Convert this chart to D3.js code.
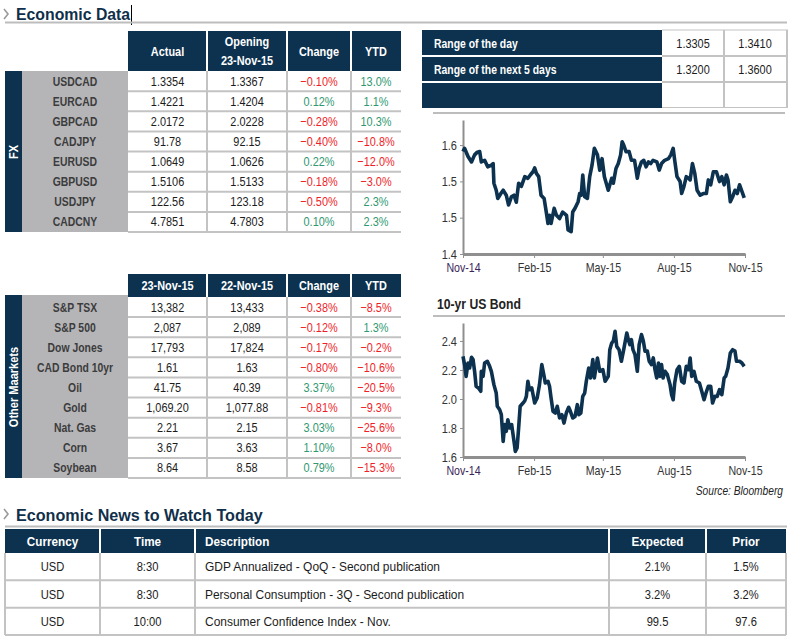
<!DOCTYPE html>
<html><head><meta charset="utf-8">
<script src="https://cdn.jsdelivr.net/npm/d3@7"></script>
<style>body{margin:0;background:#fff}svg{display:block}</style>
</head><body>
<svg id="c" width="795" height="636"></svg>
<script>
// ---------------- DATA ----------------
const fxPairs   = ["USDCAD","EURCAD","GBPCAD","CADJPY","EURUSD","GBPUSD","USDJPY","CADCNY"];
const fxActual  = ["1.3354","1.4221","2.0172","91.78","1.0649","1.5106","122.56","4.7851"];
const fxOpening = ["1.3367","1.4204","2.0228","92.15","1.0626","1.5133","123.18","4.7803"];
const fxChange  = [-0.10, 0.12, -0.28, -0.40, 0.22, -0.18, -0.50, 0.10];
const fxYtd     = [13.0, 1.1, 10.3, -10.8, -12.0, -3.0, 2.3, 2.3];
const fxHeaders = [["Actual"],["Opening","23-Nov-15"],["Change"],["YTD"]];

const mkNames  = ["S&P TSX","S&P 500","Dow Jones","CAD Bond 10yr","Oil","Gold","Nat. Gas","Corn","Soybean"];
const mkToday  = ["13,382","2,087","17,793","1.61","41.75","1,069.20","2.21","3.67","8.64"];
const mkPrev   = ["13,433","2,089","17,824","1.63","40.39","1,077.88","2.15","3.63","8.58"];
const mkChange = [-0.38, -0.12, -0.17, -0.80, 3.37, -0.81, 3.03, 1.10, 0.79];
const mkYtd    = [-8.5, 1.3, -0.2, -10.6, -20.5, -9.3, -25.6, -8.0, -15.3];
const mkHeaders = [["23-Nov-15"],["22-Nov-15"],["Change"],["YTD"]];

const rangeLabels = ["Range of the day","Range of the next 5 days",""];
const rangeLow    = ["1.3305","1.3200",""];
const rangeHigh   = ["1.3410","1.3600",""];

const newsHeaders  = ["Currency","Time","Description","Expected","Prior"];
const newsCurrency = ["USD","USD","USD"];
const newsTime     = ["8:30","8:30","10:00"];
const newsDesc     = ["GDP Annualized - QoQ - Second publication","Personal Consumption - 3Q - Second publication","Consumer Confidence Index - Nov."];
const newsExpected = ["2.1%","3.2%","99.5"];
const newsPrior    = ["1.5%","3.2%","97.6"];

// chart x values: days since 23-Nov-2014
const fxDays = [0,2,6.5,11,15,18.5,21.6,23.7,28,32,36.7,39,40,43,45,49,52,56,59,62.6,66,69,72,75.5,80,84,87.6,90.6,92.8,95,98,101,105,108,110,112,114,118,121,125,129,134,136,140,142,145,149,151,153,155,157.5,161,164,167,170,174,177,180,183,188,192.5,194.6,198,201,204,206,208,211,215,218,222,224,225.6,228,231,234,237,240,243,246,251,254,257,261,266,269,272,274,277,281,283,286,289,292,294,297,300,303,307,311,315,317.5,320.6,324,328,332,335,338,341,343,346,349,352,355,358,361,364];
const fxValues = [1.588,1.594,1.579,1.569,1.582,1.587,1.588,1.569,1.572,1.560,1.563,1.566,1.530,1.517,1.502,1.511,1.517,1.508,1.490,1.505,1.508,1.495,1.530,1.524,1.542,1.539,1.546,1.551,1.558,1.548,1.542,1.508,1.502,1.475,1.456,1.471,1.456,1.484,1.471,1.465,1.477,1.471,1.444,1.441,1.477,1.484,1.496,1.511,1.508,1.545,1.505,1.502,1.542,1.563,1.594,1.582,1.554,1.575,1.542,1.517,1.539,1.530,1.557,1.566,1.582,1.606,1.600,1.588,1.588,1.572,1.572,1.554,1.539,1.557,1.569,1.572,1.560,1.569,1.566,1.572,1.569,1.554,1.566,1.572,1.575,1.582,1.594,1.572,1.542,1.533,1.511,1.524,1.542,1.539,1.536,1.566,1.548,1.517,1.508,1.511,1.511,1.536,1.527,1.551,1.551,1.533,1.542,1.527,1.545,1.536,1.496,1.505,1.517,1.511,1.527,1.515,1.503];
const fxYTicks = [1.4, 1.4667, 1.5333, 1.6];

const bondDays = [0,2,4,6.5,8.6,11,13,15,17,20,23,23.7,26,28,31.5,34.5,36.7,40,43,44.4,47.5,49.6,52,54,56,58,60.4,63,66,67.7,70,72,74,77.7,80,82,84,86,89,92.8,96,99,102,105,106.5,110,112,114,116.5,119.5,122,125,128,130.7,133.7,136.8,139,142,145,148,150,152.5,155,157.5,159.6,162.7,165,168,170,174,177,181,184,188,190,192.5,194.6,196.8,199,202,205,208,212,214,216,218,220,222.6,225.6,228,231,233.4,235.6,238.6,241,244,246.3,248.5,250.7,253,255,257,259,261.5,264.5,268,270,272,274,277,280,283,286,289,292,294,296,299,302,306,309,312,314.5,317.5,320.6,323,326,329,332,335,338,340,343,346,349,352,354,358,361,364];
const bondValues = [2.294,2.237,2.156,2.248,2.214,2.288,2.272,2.191,2.088,2.076,2.053,2.191,2.156,2.248,2.260,2.225,2.191,2.099,2.041,1.950,1.926,1.892,1.708,1.823,1.777,1.857,1.800,1.823,1.708,1.639,1.662,1.800,1.950,1.972,1.988,2.018,2.122,2.064,2.076,1.972,2.007,2.099,2.237,2.156,2.110,2.122,2.088,2.007,1.915,1.903,1.950,1.869,1.892,1.834,1.903,1.943,1.915,1.869,1.880,1.961,1.892,1.903,2.018,2.041,2.122,2.214,2.145,2.272,2.145,2.283,2.191,2.202,2.122,2.156,2.340,2.386,2.400,2.467,2.363,2.340,2.260,2.340,2.455,2.409,2.375,2.409,2.340,2.306,2.191,2.375,2.444,2.400,2.330,2.330,2.260,2.237,2.283,2.202,2.145,2.248,2.156,2.237,2.145,2.191,2.168,2.099,2.030,1.995,2.110,2.202,2.225,2.122,2.110,2.225,2.202,2.283,2.156,2.191,2.122,2.110,2.053,1.995,2.041,2.088,2.088,1.972,2.018,2.018,2.064,2.030,2.145,2.156,2.214,2.317,2.340,2.330,2.260,2.260,2.248,2.225];
const bondYTicks = [1.6, 1.8, 2.0, 2.2, 2.4];

const dateTicks = ["2014-11-23","2015-02-23","2015-05-23","2015-08-23","2015-11-23"];

// ---------------- STYLE ----------------
const NAVY = "#0c324f", LABELBG = "#b5b5b8", SEP = "#c3c3c3";
const RED = "#f01e28", GREEN = "#2f9870", TXT = "#1c1c1c";
const F = "'Liberation Sans',Arial,sans-serif";
const svg = d3.select("#c");
const sign = v => v < 0 ? RED : GREEN;
const fmtChg = d3.format(".2f"), fmtYtd = d3.format(".1f");

// condensed text helper
function T(parent, x, y, s, o = {}) {
  const rot = o.rotate ? ` rotate(${o.rotate})` : "";
  return parent.append("text")
    .attr("transform", `translate(${x},${y})${rot} scale(${o.sx || 0.8},1)`)
    .text(s)
    .attr("font-family", F).attr("font-size", o.size || 13)
    .attr("font-weight", o.weight || "normal").attr("font-style", o.style || "normal")
    .attr("text-anchor", o.anchor || "start").attr("fill", o.fill || TXT);
}

// ---------------- SECTION TITLES ----------------
function chevron(x, y) {
  svg.append("path").attr("d", `M${x},${y-5}L${x+4},${y}L${x},${y+5}`)
    .attr("fill","none").attr("stroke","#9a9a9a").attr("stroke-width",1.6);
}
chevron(4, 14);
T(svg, 16, 20, "Economic Data", {size:17, weight:"bold", sx:0.93, fill:"#102f4a"});
svg.append("line").attr("x1",131.5).attr("x2",131.5).attr("y1",5).attr("y2",25).attr("stroke","#000").attr("stroke-width",1);
svg.append("line").attr("x1",5).attr("x2",787).attr("y1",22.5).attr("y2",22.5).attr("stroke","#bdbdbd").attr("stroke-width",2);

chevron(4, 514);
T(svg, 16, 521, "Economic News to Watch Today", {size:17, weight:"bold", sx:0.95, fill:"#102f4a"});
svg.append("line").attr("x1",5).attr("x2",787).attr("y1",526.5).attr("y2",526.5).attr("stroke","#bdbdbd").attr("stroke-width",2);

// ---------------- LEFT TABLES ----------------
const colEdges = [128, 207, 287, 351, 401];
function leftTable(o) {
  const g = svg.append("g");
  g.append("rect").attr("x",colEdges[0]).attr("y",o.hTop).attr("width",colEdges[4]-colEdges[0]).attr("height",o.hBot-o.hTop).attr("fill",NAVY);
  o.headers.forEach((h,i) => {
    const cx = (colEdges[i]+colEdges[i+1])/2, mid = (o.hTop+o.hBot)/2;
    h.forEach((line,j) => {
      T(g, cx, mid + (j-(h.length-1)/2)*19 + 4.5, line, {anchor:"middle", weight:"bold", fill:"#fff", sx:0.84});
    });
  });
  colEdges.slice(1,4).forEach(x => g.append("line").attr("x1",x).attr("x2",x).attr("y1",o.hTop).attr("y2",o.hBot).attr("stroke","#fff").attr("stroke-width",2));
  const y = d3.scaleBand().domain(o.names).range([o.hBot, o.bottom]);
  g.append("rect").attr("x",5).attr("y",o.stripTop).attr("width",17).attr("height",o.bottom-o.stripTop).attr("fill",NAVY);
  g.append("rect").attr("x",22).attr("y",o.stripTop).attr("width",106).attr("height",o.bottom-o.stripTop).attr("fill",LABELBG);
  T(g, 18, o.stripMid, o.stripLabel, {rotate:-90, anchor:"middle", weight:"bold", fill:"#fff", sx:0.85});
  o.names.forEach(n => {
    const by = y(n)+y.bandwidth();
    g.append("line").attr("x1",colEdges[0]).attr("x2",colEdges[4]).attr("y1",by).attr("y2",by).attr("stroke",SEP).attr("stroke-width",2);
  });
  colEdges.slice(1,4).forEach(x => g.append("line").attr("x1",x).attr("x2",x).attr("y1",o.hBot).attr("y2",o.bottom).attr("stroke",SEP).attr("stroke-width",2));
  const cols = [
    {v:o.c1, c:()=>TXT}, {v:o.c2, c:()=>TXT},
    {v:o.chg.map(d=>fmtChg(d)+"%"), c:i=>sign(o.chg[i])},
    {v:o.ytd.map(d=>fmtYtd(d)+"%"), c:i=>sign(o.ytd[i])}
  ];
  o.names.forEach((n,i) => {
    const cy = y(n) + y.bandwidth()/2 + 4.5;
    T(g, 75, cy, n, {anchor:"middle", weight:"bold", fill:"#3c3c3c", sx:0.8});
    cols.forEach((col,k) => {
      T(g, (colEdges[k]+colEdges[k+1])/2, cy, col.v[i], {anchor:"middle", fill:col.c(i), sx:0.84});
    });
  });
}
leftTable({names:fxPairs, c1:fxActual, c2:fxOpening, chg:fxChange, ytd:fxYtd, headers:fxHeaders,
  hTop:31, hBot:71, bottom:232, stripTop:71, stripMid:152, stripLabel:"FX"});
leftTable({names:mkNames, c1:mkToday, c2:mkPrev, chg:mkChange, ytd:mkYtd, headers:mkHeaders,
  hTop:274, hBot:297, bottom:478, stripTop:295, stripMid:387, stripLabel:"Other Maarkets"});

// ---------------- RANGE TABLE ----------------
(function(){
  const g = svg.append("g");
  const y = d3.scaleBand().domain(d3.range(rangeLabels.length)).range([30,108]);
  g.append("rect").attr("x",422).attr("y",30).attr("width",240).attr("height",78).attr("fill",NAVY);
  rangeLabels.forEach((lab,i) => {
    const yy = y(i), cy = yy + y.bandwidth()/2 + 4.5;
    T(g, 434, cy, lab, {weight:"bold", fill:"#fff"});
    T(g, 693, cy, rangeLow[i], {anchor:"middle", sx:0.84});
    T(g, 755, cy, rangeHigh[i], {anchor:"middle", sx:0.84});
    if (i < rangeLabels.length-1) {
      const by = yy + y.bandwidth();
      g.append("line").attr("x1",422).attr("x2",662).attr("y1",by).attr("y2",by).attr("stroke","#fff").attr("stroke-width",2);
      g.append("line").attr("x1",662).attr("x2",788).attr("y1",by).attr("y2",by).attr("stroke",SEP).attr("stroke-width",2);
    }
  });
  g.append("line").attr("x1",724).attr("x2",724).attr("y1",30).attr("y2",108).attr("stroke",SEP).attr("stroke-width",2);
  g.append("line").attr("x1",787).attr("x2",787).attr("y1",30).attr("y2",108).attr("stroke",SEP).attr("stroke-width",2);
  g.append("line").attr("x1",662).attr("x2",788).attr("y1",30).attr("y2",30).attr("stroke",SEP).attr("stroke-width",1);
  g.append("line").attr("x1",662).attr("x2",788).attr("y1",107.5).attr("y2",107.5).attr("stroke",SEP).attr("stroke-width",1);
})();

// ---------------- CHARTS ----------------
const start = new Date(2014,10,23);
const toDate = d => new Date(start.getTime() + d*864e5);
const x = d3.scaleTime().domain([start, new Date(2015,10,23)]).range([463,745]);
const tickDates = dateTicks.map(s => d3.timeParse("%Y-%m-%d")(s));
const AX = 0.85;

function chart(o) {
  const g = svg.append("g");
  const y = d3.scaleLinear().domain(o.domain).range([o.bottom, o.top]);
  g.append("line").attr("x1",433).attr("x2",785).attr("y1",o.rule).attr("y2",o.rule).attr("stroke","#bdbdbd").attr("stroke-width",2);
  const ya = g.append("g").attr("transform","translate(463,0)")
    .call(d3.axisLeft(y).tickValues(o.ticks).tickFormat(d3.format(".1f")).tickSize(3).tickPadding(4).tickSizeOuter(0));
  ya.select(".domain").attr("stroke","#8f8f8f").attr("stroke-width",2);
  ya.selectAll(".tick line").attr("stroke","#8f8f8f");
  ya.selectAll("text").attr("font-family",F).attr("font-size",13).attr("fill","#333")
    .attr("x", -6/AX).attr("transform",`scale(${AX},1)`);
  const xa = g.append("g").attr("transform",`translate(0,${o.bottom})`)
    .call(d3.axisBottom(x).tickValues(tickDates).tickFormat(d3.timeFormat("%b-%y")).tickSize(4).tickPadding(5).tickSizeOuter(0));
  xa.select(".domain").attr("stroke","#8f8f8f").attr("stroke-width",3);
  xa.selectAll(".tick line").attr("stroke","#8f8f8f");
  xa.selectAll("text").attr("font-family",F).attr("font-size",12.5).attr("fill","#333").attr("transform",`scale(${AX},1)`);
  xa.select(".tick text").attr("fill","#3a2458");
  const line = d3.line().x((d,i)=>x(toDate(o.days[i]))).y(d=>y(d));
  g.append("path").datum(o.values).attr("d",line).attr("fill","none").attr("stroke",NAVY)
    .attr("stroke-width",3.6).attr("stroke-linejoin","round");
}
chart({days:fxDays, values:fxValues, domain:[1.4,1.646], ticks:fxYTicks, bottom:254, top:120, rule:113});
chart({days:bondDays, values:bondValues, domain:[1.6,2.524], ticks:bondYTicks, bottom:457, top:323, rule:316});
T(svg, 437, 309, "10-yr US Bond", {size:14, weight:"bold", sx:0.87, fill:"#222"});
T(svg, 783, 495, "Source: Bloomberg", {size:12, style:"italic", anchor:"end", sx:0.85, fill:"#222"});

// ---------------- NEWS TABLE ----------------
(function(){
  const g = svg.append("g");
  const edges = [5,100,195,609,706,786];
  const y = d3.scaleBand().domain(d3.range(newsCurrency.length)).range([553,635]);
  g.append("rect").attr("x",5).attr("y",529).attr("width",781).attr("height",24).attr("fill",NAVY);
  newsHeaders.forEach((h,i) => {
    const left = i === 2;
    T(g, left ? edges[i]+10 : (edges[i]+edges[i+1])/2, 545.5, h, {anchor: left ? "start" : "middle", weight:"bold", fill:"#fff", sx:0.9});
  });
  edges.slice(1,5).forEach(e => {
    g.append("line").attr("x1",e).attr("x2",e).attr("y1",529).attr("y2",553).attr("stroke","#fff").attr("stroke-width",2);
    g.append("line").attr("x1",e).attr("x2",e).attr("y1",553).attr("y2",635).attr("stroke",SEP).attr("stroke-width",2);
  });
  [5,786].forEach(e => g.append("line").attr("x1",e).attr("x2",e).attr("y1",553).attr("y2",635).attr("stroke",SEP).attr("stroke-width",2));
  const cols = [newsCurrency,newsTime,newsDesc,newsExpected,newsPrior];
  d3.range(newsCurrency.length).forEach(r => {
    const by = y(r)+y.bandwidth();
    g.append("line").attr("x1",5).attr("x2",786).attr("y1",by).attr("y2",by).attr("stroke",SEP).attr("stroke-width",2);
    cols.forEach((c,i) => {
      const left = i === 2;
      T(g, left ? edges[i]+10 : (edges[i]+edges[i+1])/2, y(r)+y.bandwidth()/2+4.5, c[r], {anchor: left ? "start" : "middle", sx: left ? 0.92 : 0.86});
    });
  });
})();
</script>
</body></html>
